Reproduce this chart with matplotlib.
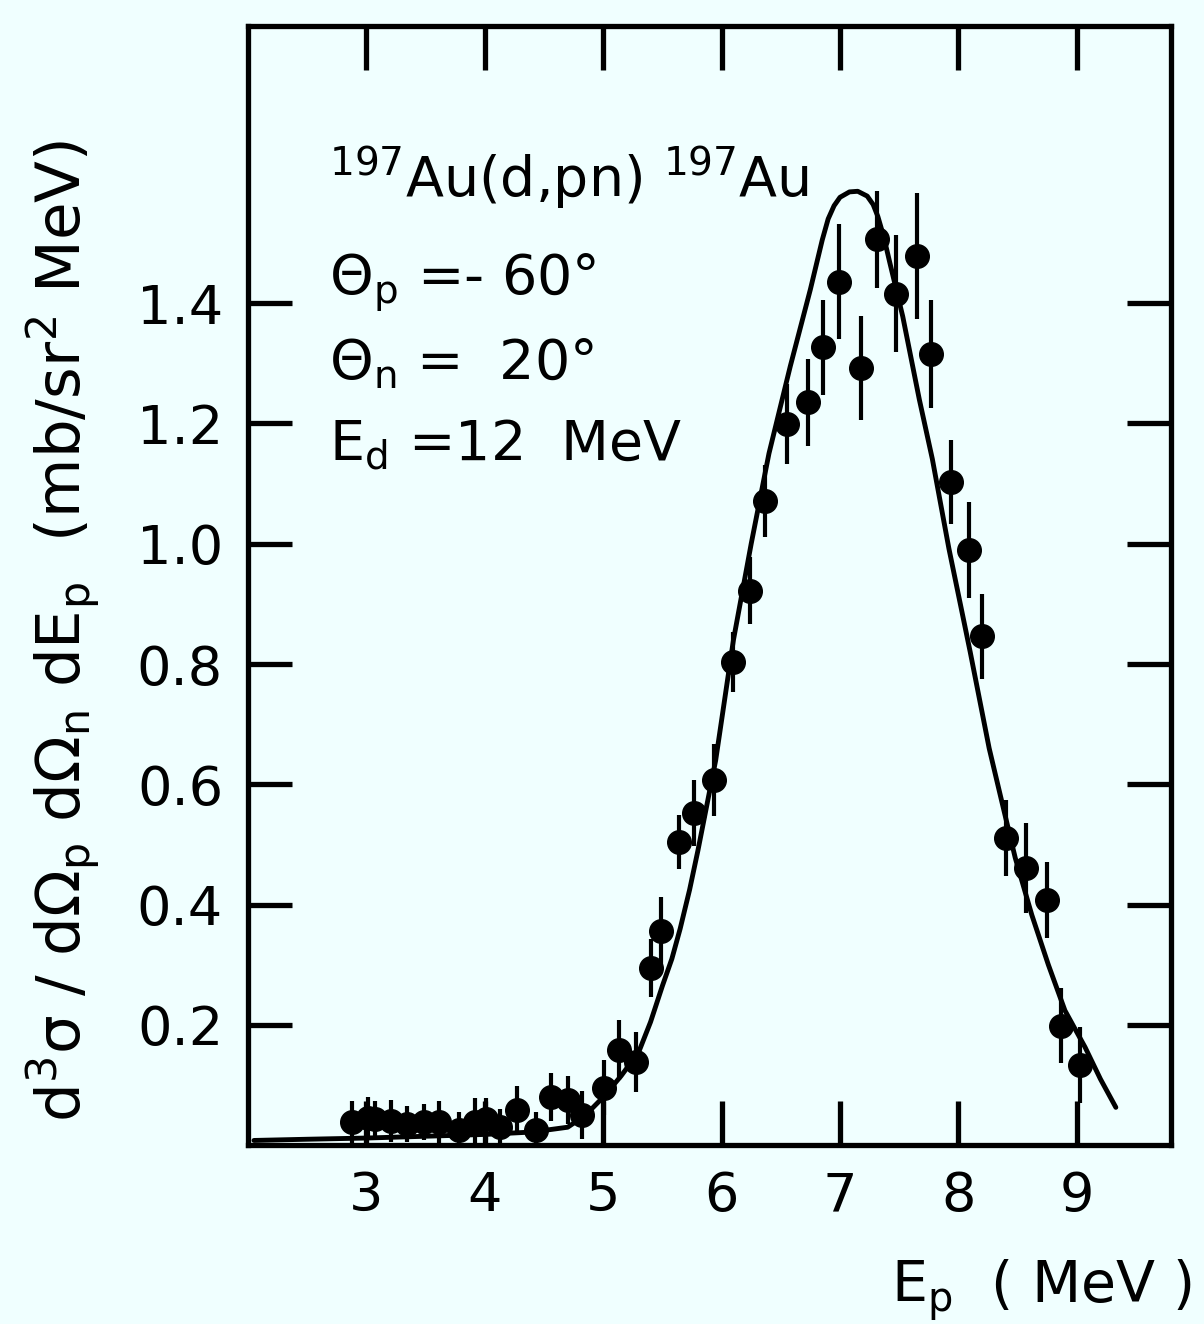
import numpy as np
import matplotlib
matplotlib.use("Agg")
import matplotlib.pyplot as plt

plt.rcParams['font.family'] = ['DejaVu Sans']
plt.rcParams['mathtext.default'] = 'regular'

# measured points: proton energy (MeV), cross section, error
ep = [2.88, 3.01, 3.07, 3.21, 3.34, 3.49, 3.61, 3.78, 3.92, 4.01,
      4.13, 4.27, 4.43, 4.56, 4.70, 4.82, 5.01, 5.13, 5.28, 5.40,
      5.49, 5.64, 5.77, 5.94, 6.10, 6.24, 6.37, 6.55, 6.73, 6.86,
      6.99, 7.18, 7.31, 7.47, 7.65, 7.77, 7.94, 8.09, 8.20, 8.40,
      8.57, 8.75, 8.87, 9.03]
sigma = [0.038, 0.046, 0.043, 0.041, 0.035, 0.038, 0.038, 0.025, 0.038, 0.043,
         0.030, 0.058, 0.025, 0.080, 0.075, 0.050, 0.096, 0.158, 0.138, 0.295,
         0.357, 0.504, 0.552, 0.607, 0.804, 0.922, 1.071, 1.199, 1.235, 1.327,
         1.436, 1.292, 1.506, 1.416, 1.478, 1.315, 1.103, 0.990, 0.846, 0.511,
         0.461, 0.408, 0.199, 0.133]
err = [0.035, 0.035, 0.030, 0.035, 0.030, 0.030, 0.035, 0.030, 0.040, 0.035,
       0.030, 0.040, 0.030, 0.040, 0.040, 0.040, 0.045, 0.050, 0.050, 0.048,
       0.055, 0.045, 0.055, 0.060, 0.050, 0.056, 0.060, 0.066, 0.072, 0.079,
       0.096, 0.086, 0.080, 0.097, 0.105, 0.090, 0.070, 0.080, 0.070, 0.063,
       0.075, 0.063, 0.063, 0.063]

# calculated curve
curve_x = [2.05, 2.5, 3.0, 3.5, 4.0, 4.4, 4.7, 4.85, 5.0, 5.15, 5.3, 5.4,
           5.5, 5.58, 5.65, 5.73, 5.8, 5.95, 6.1, 6.25, 6.4, 6.58, 6.75,
           6.85, 6.9, 6.95, 7.0, 7.08, 7.15, 7.23, 7.28, 7.32, 7.37, 7.42,
           7.53, 7.67, 7.78, 7.92, 8.1, 8.26, 8.36, 8.48, 8.62, 8.76, 8.9,
           9.07, 9.2, 9.33]
curve_y = [0.008, 0.01, 0.012, 0.015, 0.018, 0.022, 0.03, 0.05, 0.08, 0.115,
           0.155, 0.205, 0.265, 0.31, 0.36, 0.425, 0.49, 0.64, 0.84, 1.0,
           1.15, 1.295, 1.423, 1.505, 1.54, 1.562, 1.576, 1.585, 1.586, 1.578,
           1.564, 1.544, 1.51, 1.468, 1.378, 1.24, 1.141, 0.992, 0.82, 0.66,
           0.577, 0.478, 0.383, 0.30, 0.224, 0.163, 0.11, 0.063]

xticks = [3, 4, 5, 6, 7, 8, 9]
yticks = [0.2, 0.4, 0.6, 0.8, 1.0, 1.2, 1.4]

bg = '#f0ffff'
fig = plt.figure(figsize=(12.04, 13.24), dpi=100, facecolor=bg)
ax = fig.add_axes([0.206, 0.135, 0.767, 0.845], facecolor=bg)

ax.plot(curve_x, curve_y, color='black', lw=3.5, solid_capstyle='round',
        solid_joinstyle='round')
ax.errorbar(ep, sigma, yerr=err, fmt='o', color='black', ms=17,
            elinewidth=3.0, capsize=0)

ax.set_xlim(2.0, 9.8)
ax.set_ylim(0.0, 1.86)
ax.set_xticks(xticks)
ax.set_yticks(yticks)
ax.set_yticklabels(['%.1f' % v for v in yticks])
ax.tick_params(direction='in', length=32, width=3.8, labelsize=39,
               top=True, right=True, pad=18)
for s in ax.spines.values():
    s.set_linewidth(3.8)

ax.set_ylabel(r'd$^3\sigma$ / d$\Omega_p$ d$\Omega_n$ dE$_p$  (mb/sr$^2$ MeV)',
              fontsize=44)
ax.yaxis.set_label_coords(-0.158, 0.46)
fig.text(0.99, 0.016, r'E$_p$  ( MeV )', fontsize=41, ha='right', va='baseline')

# reaction and kinematics
ax.text(2.68, 1.577, r'$^{197}$Au(d,pn) $^{197}$Au', fontsize=40)
ax.text(2.68, 1.415, r'$\Theta_p$ =- 60°', fontsize=40)
ax.text(2.68, 1.274, r'$\Theta_n$ =  20°', fontsize=40)
ax.text(2.68, 1.138, r'E$_d$ =12  MeV', fontsize=40)

plt.savefig('out.png', dpi=100, facecolor=bg)
